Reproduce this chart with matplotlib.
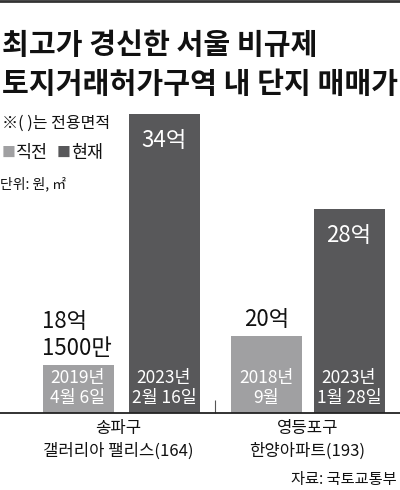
import matplotlib.pyplot as plt

plt.rcParams['font.family'] = ['Noto Sans CJK KR', 'DejaVu Sans']

# 데이터
groups = ['송파구\n갤러리아 팰리스(164)', '영등포구\n한양아파트(193)']
values = [18.15, 34, 20, 28]  # 억 원
value_labels = ['18억\n1500만', '34억', '20억', '28억']
date_labels = ['2019년\n4월 6일', '2023년\n2월 16일', '2018년\n9월', '2023년\n1월 28일']
series = ['직전', '현재', '직전', '현재']

light = '#a0a0a2'
dark = '#58585a'
colors = [light if s == '직전' else dark for s in series]

W, H = 400, 490
fig = plt.figure(figsize=(W / 100, H / 100), dpi=100)

def fy(px):
    # 위에서부터의 픽셀 -> figure 좌표
    return 1 - px / H

# 축: 아래 기준선 y=413px, 세로 15.83px 당 1억
base_px, top_px = 413, 100
ax = fig.add_axes([0, fy(base_px), 1, (base_px - top_px) / H])
scale = 15.83
y0 = 15.11
ax.set_xlim(0, W)
ax.set_ylim(y0, y0 + (base_px - top_px) / scale)

xpos = [78, 164, 266.5, 349]
ax.bar(xpos, values, width=71, bottom=0, color=colors, edgecolor='none')

for s in ['top', 'right', 'left']:
    ax.spines[s].set_visible(False)
ax.spines['bottom'].set_linewidth(1.3)
ax.spines['bottom'].set_color('#222222')
ax.set_yticks([])
ax.set_xticks([215])
ax.set_xticklabels([])
ax.tick_params(axis='x', direction='in', length=9.5, width=0.8, color='#555555')

# 값 라벨
for i, (x, v, lab) in enumerate(zip(xpos, values, value_labels)):
    if series[i] == '현재':
        ax.text(x, v - 0.95, lab, ha='center', va='top', color='white', fontsize=16)
    else:
        if '\n' in lab:
            ax.text(x - 36, v + 0.3, lab, ha='left', va='bottom', color='#111111',
                    fontsize=16, linespacing=1.25)
        else:
            ax.text(x, v + 0.3, lab, ha='center', va='bottom', color='#111111', fontsize=16)
    ax.text(x, y0 + 0.4, date_labels[i], ha='center', va='bottom', color='white',
            fontsize=12.5, linespacing=1.15)

# 그룹 라벨
for gx, g in zip([118, 307.5], groups):
    fig.text(gx / W, fy(420), g, ha='center', va='top', fontsize=12,
             color='#111111', linespacing=1.4)

# 제목
fig.add_artist(plt.Line2D([0, 1], [fy(1), fy(1)], color='#333333', lw=2))
fig.text(2 / W, fy(45), '최고가 경신한 서울 비규제', ha='left', va='center',
         fontsize=21, fontweight='bold', color='#111111')
fig.text(2 / W, fy(84), '토지거래허가구역 내 단지 매매가', ha='left', va='center',
         fontsize=21, fontweight='bold', color='#111111')

# 범례 / 주석
fig.text(2 / W, fy(123), '※( )는 전용면적', ha='left', va='center', fontsize=11.5, color='#111111')
fig.text(2 / W, fy(153), '■', ha='left', va='center', fontsize=10, color=light)
fig.text(16 / W, fy(153), '직전', ha='left', va='center', fontsize=12.5, color='#111111')
fig.text(57 / W, fy(153), '■', ha='left', va='center', fontsize=10, color=dark)
fig.text(71 / W, fy(153), '현재', ha='left', va='center', fontsize=12.5, color='#111111')
fig.text(0 / W, fy(184), '단위: 원, ㎡', ha='left', va='center', fontsize=10, color='#111111')

fig.text(397 / W, fy(479), '자료: 국토교통부', ha='right', va='center', fontsize=11, color='#111111')

fig.savefig('out.png', dpi=100)
